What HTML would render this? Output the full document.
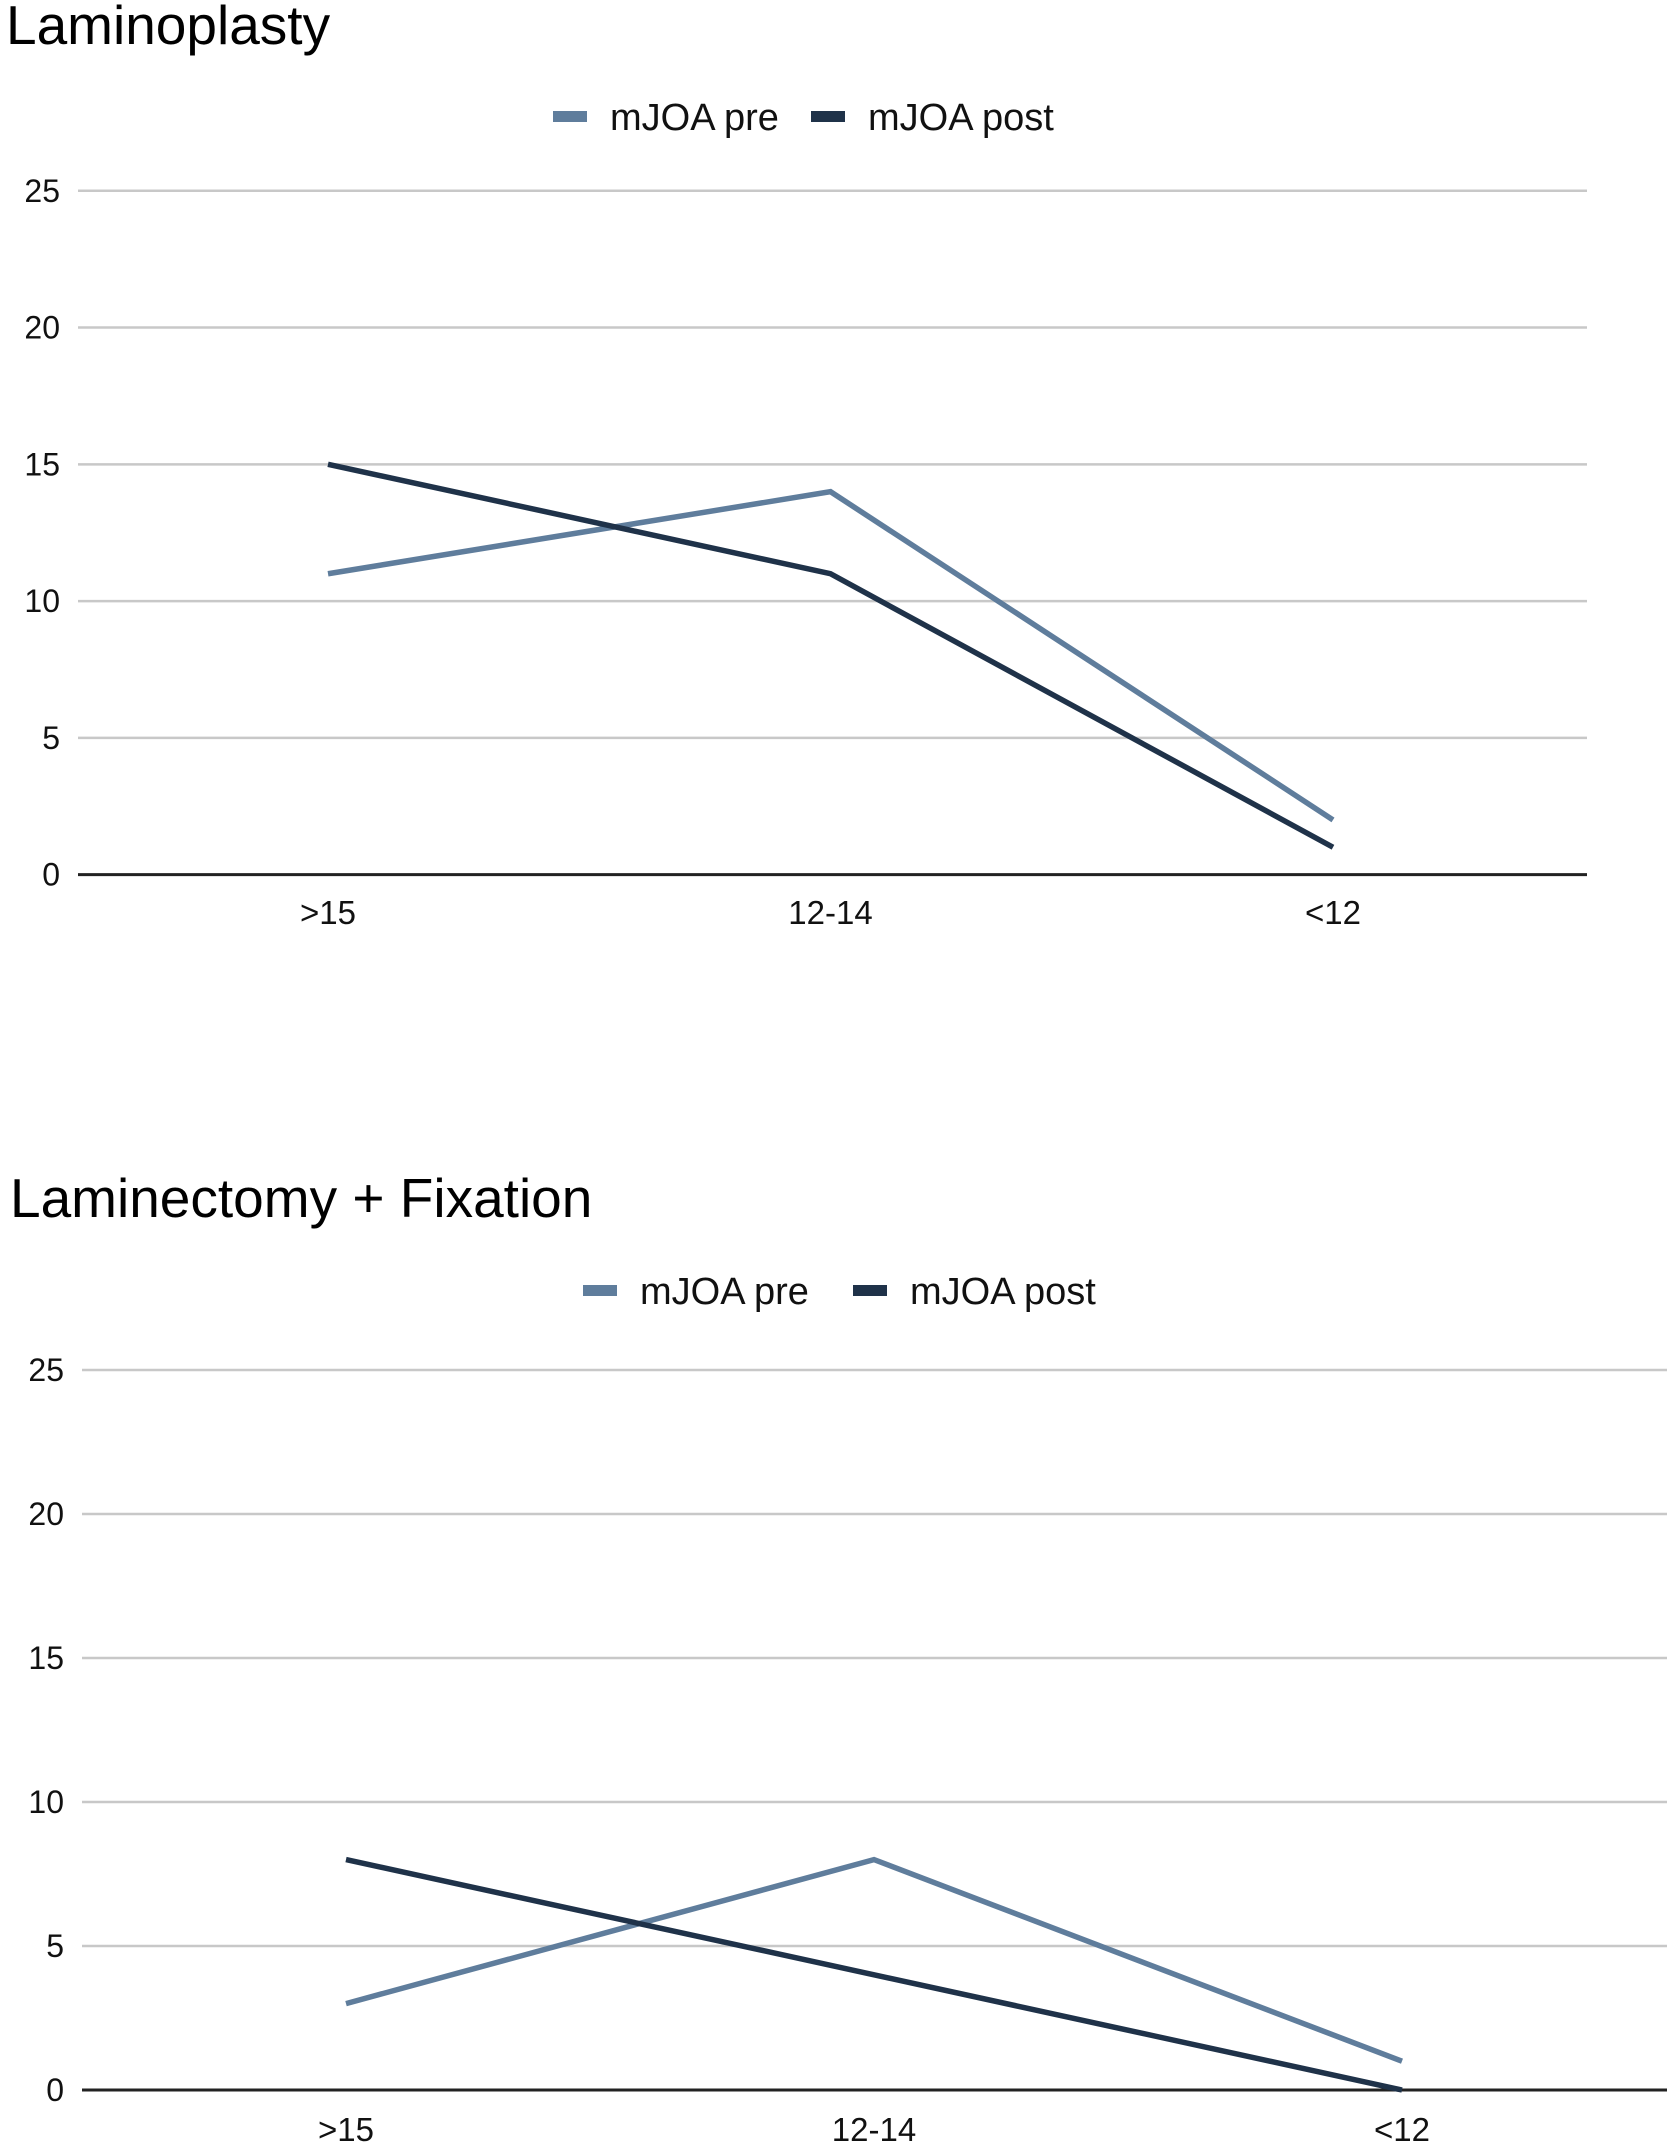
<!DOCTYPE html>
<html><head><meta charset="utf-8"><style>
html,body{margin:0;padding:0;background:#fff;}
svg{display:block;font-family:"Liberation Sans",Arial,sans-serif;}
</style></head><body>
<svg id="s" width="1675" height="2151"></svg>
<script>
const categories = [">15", "12-14", "<12"];
const yTicks = [0, 5, 10, 15, 20, 25];
const lamPre = [11, 14, 2];
const lamPost = [15, 11, 1];
const fixPre = [3, 8, 1];
const fixPost = [8, 4, 0];

const NS = "http://www.w3.org/2000/svg";
const svg = document.getElementById('s');
function mk(tag, attrs, parent, text) {
  const e = document.createElementNS(NS, tag);
  for (const k in attrs) e.setAttribute(k, attrs[k]);
  if (text !== undefined) e.textContent = text;
  (parent || svg).appendChild(e);
  return e;
}
const PRE = "#5f7d9c", POST = "#1f3249";

function chart(cfg) {
  const g = mk('g', {});
  
  
  const t = mk('text', {x: cfg.titleX, y: cfg.titleY, 'font-size': 55, fill: '#000'}, g, cfg.title);
  
  
  const items = [[cfg.legPreX, PRE, 'mJOA pre'], [cfg.legPostX, POST, 'mJOA post']];
  items.forEach(function (it) {
    const lg = mk('g', {}, g);
    
    
    mk('rect', {x: it[0], y: cfg.legY - 6, width: 34, height: 11, fill: it[1]}, lg);
    mk('text', {x: it[0] + 57, y: cfg.legY + 13, 'font-size': 38, fill: '#111'}, lg, it[2]);
  });
  const y = v => cfg.y0 + (cfg.y25 - cfg.y0) * v / 25;
  const x = i => cfg.xs0 + i * cfg.xstep;
  yTicks.forEach(function (v) {
    const l = mk('line', {x1: cfg.left, x2: cfg.right, y1: y(v), y2: y(v), stroke: v === 0 ? '#222' : '#c8c8c8', 'stroke-width': v === 0 ? 3 : 2.5}, g);
    
    
    const tl = mk('text', {x: cfg.tickX, y: y(v) + 11, 'font-size': 32, 'text-anchor': 'end', fill: '#111'}, g, String(v));
    
    
  });
  categories.forEach(function (c, i) {
    const tl = mk('text', {x: x(i), y: cfg.catY, 'font-size': 33, 'text-anchor': 'middle', fill: '#111'}, g, c);
    
    
  });
  [[cfg.pre, PRE, 'line-mjoa-pre'], [cfg.post, POST, 'line-mjoa-post']].forEach(function (s) {
    const pts = s[0].map((v, i) => x(i) + ',' + y(v)).join(' ');
    const p = mk('polyline', {points: pts, fill: 'none', stroke: s[1], 'stroke-width': 5.5, 'stroke-linejoin': 'miter'}, g);
    
    
  });
}
chart({name: 'laminoplasty-chart', title: 'Laminoplasty', titleX: 6, titleY: 44,
  legY: 117, legPreX: 553, legPostX: 811,
  y0: 874.6, y25: 190.8, left: 78, right: 1587, tickX: 60,
  xs0: 328, xstep: 502.5, catY: 924, pre: lamPre, post: lamPost});
chart({name: 'laminectomy-fixation-chart', title: 'Laminectomy + Fixation', titleX: 10, titleY: 1217,
  legY: 1291, legPreX: 583, legPostX: 853,
  y0: 2090, y25: 1370, left: 82, right: 1667, tickX: 64,
  xs0: 346, xstep: 528, catY: 2141, pre: fixPre, post: fixPost});
</script>
</body></html>
